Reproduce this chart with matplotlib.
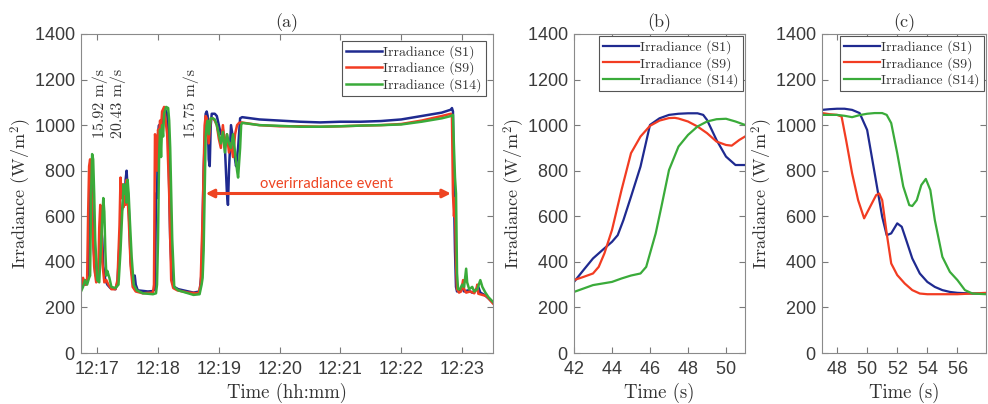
import numpy as np
import matplotlib
matplotlib.use('Agg')
import matplotlib.pyplot as plt

plt.rcParams['mathtext.fontset'] = 'cm'
plt.rcParams['axes.formatter.use_mathtext'] = True

# ---- panel (a): seconds after 12:17:00 ----
ta_s1 = [-16, -14, -12, -10, -9, -8, -7, -6, -5, -4, -2, 0, 2, 4, 5, 6, 8, 10, 13, 18, 20, 22, 24, 25, 26, 27, 28,
         29, 30, 31, 33, 35, 37, 38, 40, 50, 55, 57, 58, 59, 60, 61, 62, 63, 64, 65, 67, 69, 70, 72, 74, 76, 80, 95,
         101, 103, 105, 107, 108, 109, 110, 111, 112, 113, 116, 118, 120, 122, 124, 126, 128, 129, 130, 132, 134,
         136, 137, 139, 141, 143, 160, 180, 200, 220, 240, 260, 280, 300, 320, 340, 349, 350, 351, 352, 353, 354,
         355, 358, 360, 362, 366, 370, 373, 376, 378, 382, 386, 391]
ia_s1 = [290, 310, 300, 320, 330, 500, 800, 830, 700, 500, 350, 320, 420, 540, 500, 380, 320, 300, 285, 280, 310,
         480, 620, 640, 680, 650, 760, 800, 720, 650, 400, 320, 340, 300, 275, 270, 272, 280, 700, 680, 960, 1000,
         880, 1000, 980, 1050, 1070, 1050, 980, 500, 310, 290, 280, 265, 270, 350, 800, 1050, 1060, 1040, 850, 820,
         1000, 1050, 1050, 1040, 1000, 960, 980, 900, 700, 650, 800, 1000, 940, 850, 820, 900, 1030, 1035, 1025,
         1020, 1015, 1012, 1015, 1015, 1018, 1025, 1040, 1055, 1068, 1075, 1060, 700, 450, 290, 270, 275, 290, 270,
         275, 265, 275, 290, 265, 255, 240, 218]

ta_s9 = [-16, -14, -13, -12, -11, -10, -9, -8, -7, -6, -5, -3, -1, 1, 2, 3, 4, 5, 7, 9, 11, 14, 18, 20, 22, 23, 24,
         25, 26, 27, 28, 29, 31, 33, 35, 38, 45, 55, 56, 57, 58, 59, 60, 61, 62, 63, 64, 66, 68, 69, 71, 73, 75, 79,
         90, 100, 102, 104, 106, 107, 108, 110, 112, 114, 116, 118, 120, 122, 124, 126, 128, 130, 132, 134, 136, 138,
         140, 142, 160, 180, 200, 220, 240, 260, 280, 300, 320, 340, 349, 350, 351, 352, 353, 354, 355, 357, 359,
         361, 362, 364, 368, 372, 374, 375, 376, 380, 384, 388, 391]
ia_s9 = [280, 330, 300, 320, 300, 310, 600, 820, 850, 780, 600, 380, 310, 320, 550, 650, 560, 400, 310, 320, 300,
         280, 280, 320, 560, 770, 680, 740, 640, 730, 650, 760, 600, 380, 290, 270, 262, 265, 300, 960, 940, 800,
         980, 960, 1020, 990, 1060, 1080, 1000, 960, 700, 320, 285, 275, 265, 262, 300, 600, 1000, 1040, 1030, 920,
         1030, 1030, 1020, 1000, 940, 900, 1000, 900, 960, 880, 920, 860, 960, 1000, 1010, 1012, 1000, 995, 995, 993,
         995, 998, 1000, 1005, 1020, 1040, 1050, 1040, 700, 600, 680, 400, 280, 265, 270, 320, 280, 265, 270, 262,
         280, 300, 260, 255, 250, 230, 215]

ta_s14 = [-16, -14, -12, -10, -8, -7, -6, -5, -4, -3, -2, 0, 2, 4, 6, 7, 8, 9, 10, 12, 14, 18, 21, 23, 25, 26, 27, 28,
          29, 30, 31, 32, 34, 36, 39, 45, 55, 58, 59, 60, 61, 62, 63, 64, 65, 66, 68, 70, 71, 72, 74, 76, 80, 95, 101,
          103, 104, 105, 107, 108, 109, 110, 112, 114, 116, 118, 120, 122, 124, 126, 128, 130, 132, 134, 136, 138,
          139, 141, 142, 143, 160, 180, 200, 220, 240, 260, 280, 300, 320, 340, 349, 351, 352, 353, 354, 355, 356,
          358, 360, 362, 364, 365, 367, 370, 372, 375, 378, 380, 383, 386, 391]
ia_s14 = [270, 290, 320, 300, 330, 340, 700, 873, 850, 700, 500, 320, 310, 500, 680, 620, 450, 340, 360, 330, 290,
          285, 300, 450, 650, 740, 700, 740, 660, 760, 700, 600, 420, 300, 275, 262, 258, 262, 300, 500, 850, 980,
          860, 1000, 950, 1050, 1080, 1075, 1020, 900, 500, 290, 275, 255, 258, 300, 330, 450, 950, 1000, 1020, 960,
          1030, 1030, 1025, 1000, 960, 920, 970, 880, 960, 920, 900, 960, 880, 800, 770, 900, 1000, 1010, 1000, 997,
          993, 993, 995, 998, 1000, 1003, 1015, 1030, 1040, 1045, 900, 770, 700, 350, 280, 280, 300, 290, 370, 310,
          280, 290, 270, 280, 320, 290, 265, 245, 222]

xticks_a = [0, 60, 120, 180, 240, 300, 360]
xticklabels_a = ['12:17', '12:18', '12:19', '12:20', '12:21', '12:22', '12:23']

# ---- panel (b): seconds ----
tb_s1 = [42, 42.5, 43, 43.5, 44, 44.3, 44.6, 45, 45.5, 46, 46.5, 47, 47.5, 48, 48.5, 48.8, 49, 49.5, 50, 50.5, 51]
ib_s1 = [312, 364, 415, 452, 488, 517, 583, 686, 818, 1001, 1030, 1045, 1050, 1052, 1052, 1045, 1023, 935, 862, 825,
         825]
tb_s9 = [42, 42.5, 43, 43.3, 43.6, 44, 44.5, 45, 45.5, 46, 46.5, 47, 47.3, 47.5, 48, 48.5, 49, 49.5, 50, 50.3, 50.7,
         51]
ib_s9 = [320, 334, 349, 378, 437, 540, 715, 877, 950, 997, 1020, 1031, 1032, 1029, 1016, 994, 965, 928, 913, 910,
         935, 950]
tb_s14 = [42, 42.5, 43, 43.5, 44, 44.5, 45, 45.5, 45.8, 46, 46.3, 46.6, 47, 47.5, 48, 48.5, 49, 49.5, 50, 50.5, 51]
ib_s14 = [268, 283, 298, 305, 312, 327, 340, 349, 378, 437, 525, 642, 803, 906, 957, 994, 1016, 1026, 1028, 1016,
          1001]

# ---- panel (c): seconds ----
tc_s1 = [47, 47.5, 48, 48.5, 49, 49.5, 50, 50.5, 51, 51.3, 51.6, 52, 52.3, 52.6, 53, 53.5, 54, 54.5, 55, 55.5, 56,
         57, 57.9]
ic_s1 = [1067, 1070, 1072, 1072, 1067, 1053, 979, 789, 598, 517, 525, 569, 554, 495, 415, 349, 312, 290, 276, 268,
         264, 261, 261]
tc_s9 = [47, 47.5, 48, 48.3, 48.6, 49, 49.4, 49.8, 50.2, 50.6, 50.8, 51, 51.3, 51.6, 52, 52.5, 53, 53.5, 54, 55, 56,
         57, 57.9]
ic_s9 = [1053, 1048, 1045, 1038, 935, 789, 671, 591, 642, 693, 700, 671, 525, 393, 342, 305, 276, 261, 258, 258, 258,
         261, 264]
tc_s14 = [47, 48, 48.5, 49, 49.5, 50, 50.5, 51, 51.3, 51.6, 52, 52.4, 52.8, 53, 53.3, 53.6, 53.9, 54.2, 54.5, 55,
          55.5, 56, 56.5, 57, 57.9]
ic_s14 = [1045, 1045, 1041, 1035, 1044, 1050, 1053, 1053, 1045, 1009, 877, 731, 649, 645, 671, 737, 764, 715, 583,
          422, 356, 320, 276, 261, 258]

labels = ['Irradiance (S1)', 'Irradiance (S9)', 'Irradiance (S14)']
colors = ['#1f2a90', '#f23c22', '#3aab3a']

serif = 'cmr10'
W, H = 988, 404
fig = plt.figure(figsize=(W / 100, H / 100), dpi=100)
ax_a = fig.add_axes([81 / W, 1 - 353 / H, 412 / W, 319 / H])
ax_b = fig.add_axes([574 / W, 1 - 353 / H, 171 / W, 319 / H])
ax_c = fig.add_axes([822 / W, 1 - 353 / H, 164 / W, 319 / H])


def style(ax, title):
    ax.set_ylim(0, 1400)
    ax.set_yticks(range(0, 1401, 200))
    ax.tick_params(direction='in', top=True, right=True, length=4, width=0.8, colors='#7a7a7a',
                   labelcolor='#3a3a3a', labelsize=13, pad=4)
    ax.tick_params(axis='x', pad=6)
    for lab in ax.get_xticklabels() + ax.get_yticklabels():
        lab.set_fontfamily('Liberation Sans')
    for sp in ax.spines.values():
        sp.set_color('#8a8a8a')
        sp.set_linewidth(0.8)
    ax.set_ylabel('Irradiance (W/m$^2$)', fontfamily=serif, fontsize=13, color='#333333', labelpad=0)
    ax.set_title(title, fontfamily=serif, fontsize=13, color='#333333', pad=5)
    ax.set_xlabel(ax.get_xlabel(), fontfamily=serif, fontsize=13.5, color='#333333', labelpad=3)


ax_a.plot(ta_s1, ia_s1, c=colors[0], lw=1.8, label=labels[0])
ax_a.plot(ta_s9, ia_s9, c=colors[1], lw=1.8, label=labels[1])
ax_a.plot(ta_s14, ia_s14, c=colors[2], lw=1.8, label=labels[2])
ax_a.set_xlim(-16, 390.5)
ax_a.set_xticks(xticks_a)
ax_a.set_xticklabels(xticklabels_a)
ax_a.set_xlabel('Time (hh:mm)')
style(ax_a, '(a)')

# overirradiance arrow and wind speed notes
ax_a.annotate('', xy=(107, 700), xytext=(349, 700),
              arrowprops=dict(arrowstyle='<|-|>', color='#ee4422', lw=2.2, mutation_scale=12, shrinkA=0, shrinkB=0))
ax_a.text(226, 742, 'overirradiance event', color='#ee4422', fontsize=10.5, fontfamily='Lato',
          ha='center', va='center')
ax_a.text(3, 1245, '15.92 m/s', rotation=90, fontfamily=serif, fontsize=11.5, color='#333333',
          ha='center', va='top')
ax_a.text(21, 1245, '20.43 m/s', rotation=90, fontfamily=serif, fontsize=11.5, color='#333333',
          ha='center', va='top')
ax_a.text(93, 1245, '15.75 m/s', rotation=90, fontfamily=serif, fontsize=11.5, color='#333333',
          ha='center', va='top')

ax_b.plot(tb_s1, ib_s1, c=colors[0], lw=1.6, label=labels[0])
ax_b.plot(tb_s9, ib_s9, c=colors[1], lw=1.6, label=labels[1])
ax_b.plot(tb_s14, ib_s14, c=colors[2], lw=1.6, label=labels[2])
ax_b.set_xlim(42, 51)
ax_b.set_xticks([42, 44, 46, 48, 50])
ax_b.set_xlabel('Time (s)')
style(ax_b, '(b)')

ax_c.plot(tc_s1, ic_s1, c=colors[0], lw=1.6, label=labels[0])
ax_c.plot(tc_s9, ic_s9, c=colors[1], lw=1.6, label=labels[1])
ax_c.plot(tc_s14, ic_s14, c=colors[2], lw=1.6, label=labels[2])
ax_c.set_xlim(47, 57.9)
ax_c.set_xticks([48, 50, 52, 54, 56])
ax_c.set_xlabel('Time (s)')
style(ax_c, '(c)')

for ax, pad in [(ax_a, 0.5), (ax_b, 0.15), (ax_c, 0.15)]:
    leg = ax.legend(loc='upper right', prop={'family': serif, 'size': 10}, frameon=True, fancybox=False,
                    framealpha=1, edgecolor='#555555', borderaxespad=pad, handlelength=2.6, handletextpad=0.1,
                    labelspacing=0.2, borderpad=0.3)
    leg.get_frame().set_linewidth(0.8)
    for t in leg.get_texts():
        t.set_color('#333333')

fig.savefig('out.png', dpi=100)
